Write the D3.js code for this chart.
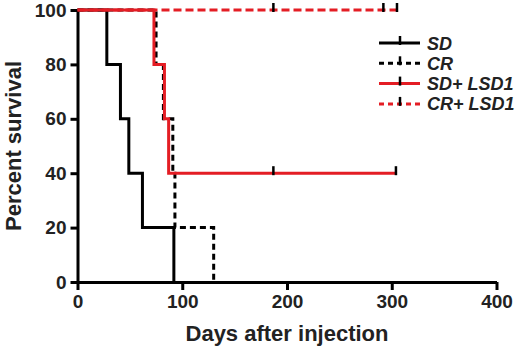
<!DOCTYPE html>
<html>
<head>
<meta charset="utf-8">
<script src="https://cdn.jsdelivr.net/npm/d3@7"></script>
<style>
  body { margin: 0; background: #fff; }
  svg { display: block; font-family: "Liberation Sans", Arial, sans-serif; font-weight: bold; }
</style>
</head>
<body>
<svg id="km" width="520" height="349"></svg>
<script>
// Kaplan-Meier steps (days, percent survival)
const sdDays = [0, 28, 41, 49, 62, 92];
const sdPct = [100, 80, 60, 40, 20, 0];
const sdCens = [];

const crDays = [0, 75, 82, 91, 93, 130];
const crPct = [100, 80, 60, 40, 20, 0];
const crCens = [];

const sdLsdDays = [0, 73, 83, 87, 304];
const sdLsdPct = [100, 80, 60, 40, 40];
const sdLsdCens = [187, 304];

const crLsdDays = [0, 305];
const crLsdPct = [100, 100];
const crLsdCens = [187, 292, 305];

const xTicks = [0, 100, 200, 300, 400];
const yTicks = [0, 20, 40, 60, 80, 100];

const seriesNames = ["SD", "CR", "SD+ LSD1", "CR+ LSD1"];

const red = "#e41d24";
const series = [
    { name: seriesNames[0], days: sdDays, pct: sdPct, cens: sdCens, color: "#000", dash: null },
    { name: seriesNames[1], days: crDays, pct: crPct, cens: crCens, color: "#000", dash: "6,4" },
    { name: seriesNames[2], days: sdLsdDays, pct: sdLsdPct, cens: sdLsdCens, color: red, dash: null },
    { name: seriesNames[3], days: crLsdDays, pct: crLsdPct, cens: crLsdCens, color: red, dash: "8,4" }
];

const svg = d3.select("#km");

const x = d3.scaleLinear().domain([0, 400]).range([77.5, 496.5]);
const y = d3.scaleLinear().domain([0, 100]).range([282, 10]);

// axes
const xAxis = svg.append("g")
    .attr("transform", `translate(0,${y(0)})`)
    .call(d3.axisBottom(x).tickValues(xTicks).tickSize(8).tickPadding(5).tickSizeOuter(0));
const yAxis = svg.append("g")
    .attr("transform", `translate(${x(0)},0)`)
    .call(d3.axisLeft(y).tickValues(yTicks).tickSize(7).tickPadding(4).tickSizeOuter(0));

[xAxis, yAxis].forEach(a => {
    a.select(".domain").attr("stroke", "#000").attr("stroke-width", 3);
    a.selectAll(".tick line").attr("stroke", "#000").attr("stroke-width", 3);
    a.selectAll(".tick text")
        .attr("fill", "#222")
        .style("font-size", "19px")
        .style("font-family", "'Liberation Sans', Arial, sans-serif")
        .style("font-weight", "bold");
});

// curves
const line = d3.line()
    .x(d => x(d[0]))
    .y(d => y(d[1]))
    .curve(d3.curveStepAfter);

series.forEach(s => {
    const pts = s.days.map((d, i) => [d, s.pct[i]]);
    svg.append("path")
        .attr("d", line(pts))
        .attr("fill", "none")
        .attr("stroke", s.color)
        .attr("stroke-width", 3)
        .attr("stroke-dasharray", s.dash);
});

// censor marks (black)
series.forEach(s => {
    s.cens.forEach(c => {
        const level = s.pct[d3.bisectRight(s.days, c) - 1];
        svg.append("line")
            .attr("x1", x(c)).attr("x2", x(c))
            .attr("y1", y(level) - 7).attr("y2", y(level) + 2)
            .attr("stroke", "#000")
            .attr("stroke-width", 2.5);
    });
});

// axis titles
svg.append("text")
    .attr("x", (x(0) + x(400)) / 2)
    .attr("y", 341)
    .attr("text-anchor", "middle")
    .style("font-size", "22px")
    .attr("fill", "#222")
    .text("Days after injection");

svg.append("text")
    .attr("transform", "translate(21,146) rotate(-90)")
    .attr("text-anchor", "middle")
    .style("font-size", "22px")
    .attr("fill", "#222")
    .text("Percent survival");

// legend
const legend = svg.append("g").attr("transform", "translate(379,43)");
series.forEach((s, i) => {
    const g = legend.append("g").attr("transform", `translate(0,${i * 20.3})`);
    g.append("line")
        .attr("x1", 0).attr("x2", 41)
        .attr("stroke", s.color)
        .attr("stroke-width", 3)
        .attr("stroke-dasharray", s.dash ? "5,4" : null);
    g.append("line")
        .attr("x1", 21).attr("x2", 21)
        .attr("y1", -7).attr("y2", 2)
        .attr("stroke", "#000")
        .attr("stroke-width", 2.5);
    g.append("text")
        .attr("x", 48)
        .attr("y", 6.5)
        .style("font-size", "18px")
        .style("font-style", "italic")
        .attr("fill", "#222")
        .text(s.name);
});
</script>
</body>
</html>
